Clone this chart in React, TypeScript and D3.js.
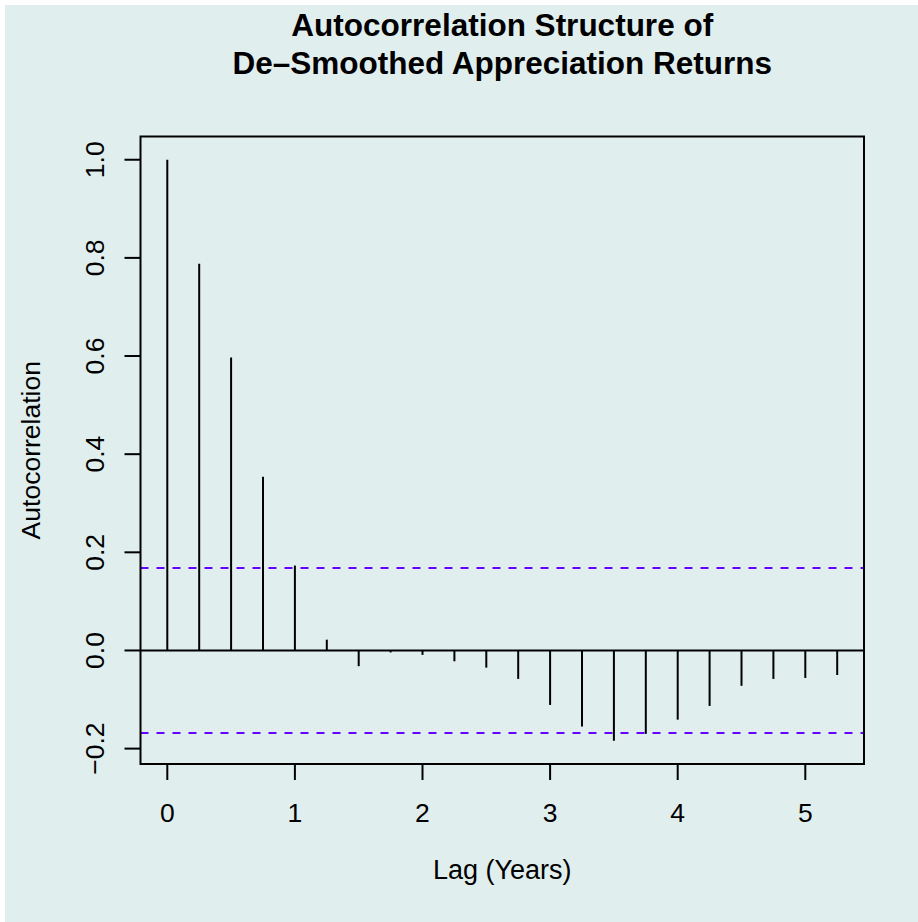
import React from "react";
import * as d3 from "d3";

// lags in years (quarterly, lag.max = 21)
const lags = [
  0, 0.25, 0.5, 0.75, 1, 1.25, 1.5, 1.75, 2, 2.25, 2.5, 2.75, 3, 3.25, 3.5,
  3.75, 4, 4.25, 4.5, 4.75, 5, 5.25,
];
const acfValues = [
  1.0, 0.788, 0.597, 0.354, 0.173, 0.022, -0.032, -0.004, -0.009, -0.022,
  -0.035, -0.058, -0.111, -0.155, -0.184, -0.17, -0.141, -0.113, -0.072,
  -0.058, -0.056, -0.05,
];
const confLimit = 0.168;
const xTicks = [0, 1, 2, 3, 4, 5];
const yTicks = [-0.2, 0, 0.2, 0.4, 0.6, 0.8, 1.0];
const titleLines = [
  "Autocorrelation Structure of",
  "De\u2013Smoothed Appreciation Returns",
];

const W = 918;
const H = 922;
const box = { left: 140.5, right: 864, top: 136.5, bottom: 764 };
const font = "'Liberation Sans', Arial, Helvetica, sans-serif";
const bg = "#E0EEEE";

export default function App() {
  // R style: 4% expansion of the data range
  const yMin = Math.min(-confLimit, d3.min(acfValues)!);
  const yMax = Math.max(1, d3.max(acfValues)!);
  const yPad = (yMax - yMin) * 0.04;
  const xPad = (d3.max(lags)! - d3.min(lags)!) * 0.04;

  const x = d3
    .scaleLinear()
    .domain([d3.min(lags)! - xPad, d3.max(lags)! + xPad])
    .range([box.left, box.right]);
  const y = d3
    .scaleLinear()
    .domain([yMin - yPad, yMax + yPad])
    .range([box.bottom, box.top]);

  const cx = (box.left + box.right) / 2;
  const cy = (box.top + box.bottom) / 2;

  return (
    <>
      <style>{`body{margin:0}`}</style>
      <svg width={W} height={H} style={{ display: "block" }}>
        <rect x={0} y={0} width={W} height={H} fill="#ffffff" />
        <rect x={5} y={5} width={W - 5} height={H - 5} fill={bg} />

        {/* title */}
        {titleLines.map((t, i) => (
          <text
            key={i}
            x={cx}
            y={36 + i * 37.5}
            textAnchor="middle"
            fontFamily={font}
            fontWeight="bold"
            fontSize={31.5}
          >
            {t}
          </text>
        ))}

        {/* zero line */}
        <line
          x1={box.left}
          x2={box.right}
          y1={y(0)}
          y2={y(0)}
          stroke="#000"
          strokeWidth={2}
        />

        {/* acf bars */}
        {lags.map((l, i) => (
          <line
            key={i}
            x1={x(l)}
            x2={x(l)}
            y1={y(0)}
            y2={y(acfValues[i])}
            stroke="#000"
            strokeWidth={2}
          />
        ))}

        {/* confidence limits */}
        {[confLimit, -confLimit].map((c, i) => (
          <line
            key={i}
            x1={box.left}
            x2={box.right}
            y1={y(c)}
            y2={y(c)}
            stroke="#6600FF"
            strokeWidth={2}
            strokeDasharray="8,8"
          />
        ))}

        {/* box */}
        <rect
          x={box.left}
          y={box.top}
          width={box.right - box.left}
          height={box.bottom - box.top}
          fill="none"
          stroke="#000"
          strokeWidth={2}
        />

        {/* x axis */}
        {xTicks.map((t) => (
          <g key={t}>
            <line
              x1={x(t)}
              x2={x(t)}
              y1={box.bottom}
              y2={box.bottom + 16}
              stroke="#000"
              strokeWidth={2}
            />
            <text
              x={x(t)}
              y={822}
              textAnchor="middle"
              fontFamily={font}
              fontSize={26.5}
            >
              {t}
            </text>
          </g>
        ))}

        {/* y axis */}
        {yTicks.map((t) => (
          <g key={t}>
            <line
              x1={box.left}
              x2={box.left - 16}
              y1={y(t)}
              y2={y(t)}
              stroke="#000"
              strokeWidth={2}
            />
            <text
              transform={`translate(104,${y(t)}) rotate(-90)`}
              textAnchor="middle"
              fontFamily={font}
              fontSize={26.5}
            >
              {t === 0 ? "0.0" : t < 0 ? "\u2212" + d3.format(".1f")(-t) : d3.format(".1f")(t)}
            </text>
          </g>
        ))}

        {/* axis titles */}
        <text
          x={cx}
          y={879}
          textAnchor="middle"
          fontFamily={font}
          fontSize={27}
        >
          Lag (Years)
        </text>
        <text
          transform={`translate(39.5,${cy}) rotate(-90)`}
          textAnchor="middle"
          fontFamily={font}
          fontSize={26.5}
        >
          Autocorrelation
        </text>
      </svg>
    </>
  );
}
